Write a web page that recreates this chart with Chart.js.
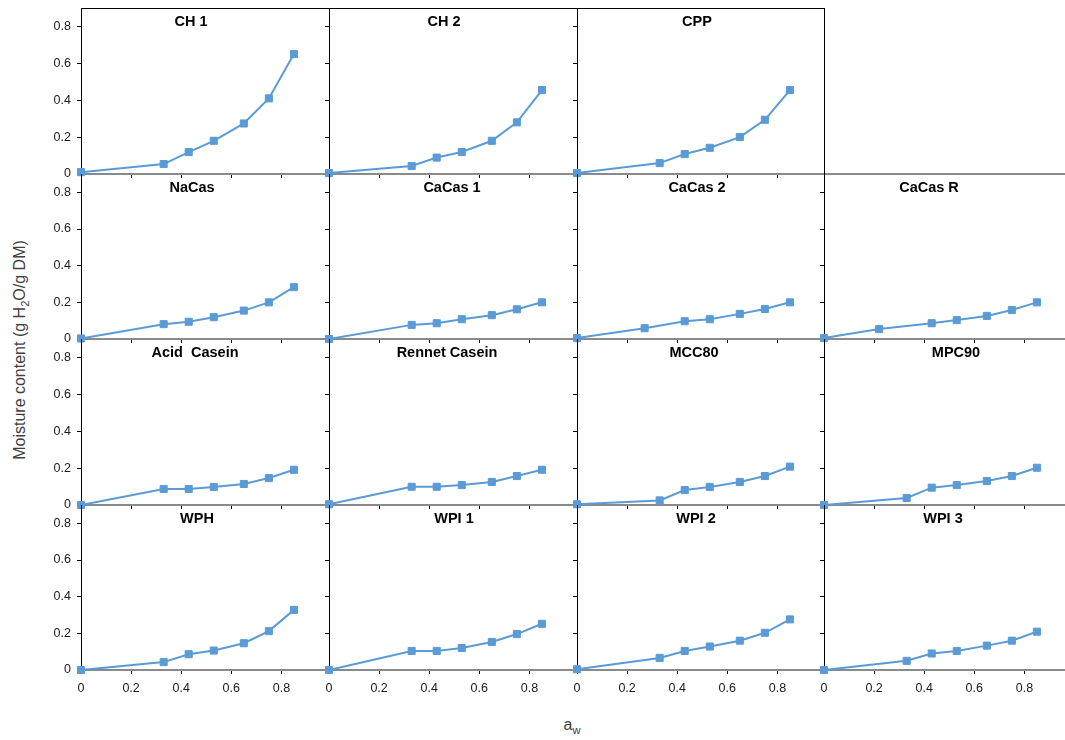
<!DOCTYPE html>
<html>
<head>
<meta charset="utf-8">
<script src="https://cdn.jsdelivr.net/npm/chart.js@4.4.0/dist/chart.umd.min.js"></script>
<style>
  body { margin: 0; background: #fff; width: 1065px; height: 740px; overflow: hidden; position: relative; font-family: "Liberation Sans", Arial, sans-serif; }
  canvas { position: absolute; }
  #ylab { position: absolute; left: 21px; top: 350px; transform: translate(-50%, -50%) rotate(-90deg); white-space: nowrap; font-size: 16px; color: #404040; }
  #xlab { position: absolute; left: 572px; top: 726px; transform: translate(-50%, -50%); font-size: 16px; color: #404040; }
  sub { font-size: 70%; }
</style>
</head>
<body>
<div id="ylab">Moisture content (g H<sub>2</sub>O/g DM)</div>
<div id="xlab">a<sub>w</sub></div>
<script>
// water activity of the salt solutions (x)
const aw      = [0, 0.33, 0.43, 0.53, 0.65, 0.75, 0.85];
const awCaCas2 = [0, 0.27, 0.43, 0.53, 0.65, 0.75, 0.85];
const awCaCasR = [0, 0.22, 0.43, 0.53, 0.65, 0.75, 0.85];

// moisture content, g H2O / g DM
const ch1     = [0.010, 0.054, 0.119, 0.180, 0.274, 0.410, 0.650];
const ch2     = [0.005, 0.043, 0.089, 0.119, 0.180, 0.280, 0.455];
const cpp     = [0.005, 0.059, 0.108, 0.142, 0.200, 0.294, 0.455];
const naCas   = [0.003, 0.081, 0.094, 0.119, 0.155, 0.200, 0.283];
const caCas1  = [0.000, 0.077, 0.086, 0.108, 0.130, 0.162, 0.200];
const caCas2  = [0.005, 0.059, 0.097, 0.108, 0.137, 0.164, 0.200];
const caCasR  = [0.005, 0.054, 0.086, 0.103, 0.126, 0.158, 0.200];
const acidCas = [0.000, 0.087, 0.087, 0.098, 0.114, 0.146, 0.191];
const rennet  = [0.004, 0.099, 0.099, 0.108, 0.125, 0.157, 0.191];
const mcc80   = [0.004, 0.025, 0.081, 0.098, 0.125, 0.157, 0.208];
const mpc90   = [0.000, 0.038, 0.094, 0.108, 0.130, 0.157, 0.202];
const wph     = [0.000, 0.043, 0.086, 0.106, 0.146, 0.212, 0.328];
const wpi1    = [0.000, 0.104, 0.104, 0.120, 0.153, 0.196, 0.252];
const wpi2    = [0.004, 0.066, 0.104, 0.128, 0.160, 0.203, 0.276];
const wpi3    = [0.000, 0.050, 0.090, 0.104, 0.133, 0.160, 0.209];

const xTicks = [0, 0.2, 0.4, 0.6, 0.8];
const yTicks = [0, 0.2, 0.4, 0.6, 0.8];

// grid cells, row by row (null = empty cell)
const panels = [
  ['CH 1', aw, ch1], ['CH 2', aw, ch2], ['CPP', aw, cpp], null,
  ['NaCas', aw, naCas], ['CaCas 1', aw, caCas1], ['CaCas 2', awCaCas2, caCas2], ['CaCas R', awCaCasR, caCasR],
  ['Acid  Casein', aw, acidCas], ['Rennet Casein', aw, rennet], ['MCC80', aw, mcc80], ['MPC90', aw, mpc90],
  ['WPH', aw, wph], ['WPI 1', aw, wpi1], ['WPI 2', aw, wpi2], ['WPI 3', aw, wpi3]
];

// layout (px)
const colLeft = [81, 329, 577, 824];
const rowTop = [8, 174, 339, 505, 670];
const plotW = 248;
const titleDx = [110, 115, 120, 0, 111, 123, 120, 105, 114, 118, 117, 132, 116, 125, 119, 119];
const padL = 45, padT = 20, padR = 12, padB = 30;

const blue = '#5b9bd5';
const font = { family: '"Liberation Sans", Arial, sans-serif', size: 12.5 };

const panelText = {
  id: 'panelText',
  afterDraw(chart, args, opts) {
    const ctx = chart.ctx, a = chart.chartArea;
    ctx.save();
    if (opts.frameTop) {
      ctx.strokeStyle = '#000';
      ctx.lineWidth = 1;
      ctx.beginPath();
      ctx.moveTo(a.left, Math.round(a.top) + 0.5);
      ctx.lineTo(a.right, Math.round(a.top) + 0.5);
      ctx.stroke();
    }
    if (opts.text) {
      ctx.fillStyle = '#000';
      ctx.font = 'bold 14.5px "Liberation Sans", Arial, sans-serif';
      ctx.textAlign = 'center';
      ctx.textBaseline = 'middle';
      ctx.fillText(opts.text, a.left + opts.dx, a.top + 14);
    }
    ctx.restore();
  }
};

panels.forEach(function (p, i) {
  const r = Math.floor(i / 4), c = i % 4;
  const h = rowTop[r + 1] - rowTop[r];
  const cv = document.createElement('canvas');
  cv.width = plotW + padL + padR;
  cv.height = h + padT + padB;
  cv.style.left = (colLeft[c] - padL) + 'px';
  cv.style.top = (rowTop[r] - padT) + 'px';
  document.body.appendChild(cv);

  const datasets = p ? [{
    data: p[1].map((x, k) => ({ x: x, y: p[2][k] })),
    borderColor: blue,
    backgroundColor: blue,
    borderWidth: 2,
    pointStyle: 'rect',
    pointRadius: 5,
    pointBorderWidth: 1,
    pointBackgroundColor: blue,
    pointBorderColor: blue,
    tension: 0,
    clip: false
  }] : [];

  new Chart(cv, {
    type: 'line',
    data: { datasets: datasets },
    options: {
      responsive: false,
      animation: false,
      devicePixelRatio: 1,
      layout: { padding: { left: 0, top: padT, right: padR, bottom: 0 } },
      plugins: {
        legend: { display: false },
        tooltip: { enabled: false },
        panelText: { text: p ? p[0] : '', dx: titleDx[i], frameTop: r === 0 && p !== null }
      },
      scales: {
        x: {
          type: 'linear', position: 'bottom', min: 0, max: 0.99,
          afterFit: s => { s.height = padB; },
          afterBuildTicks: s => { s.ticks = xTicks.map(v => ({ value: v })); },
          ticks: { display: r === 3, font: font, color: '#1a1a1a', padding: 7, maxRotation: 0, autoSkip: false, callback: v => String(v) },
          grid: { display: p !== null, drawOnChartArea: false, drawTicks: true, tickLength: 4, color: '#000', lineWidth: 1 },
          border: { display: true, color: '#8a8a8a', width: 2 }
        },
        y: {
          type: 'linear', position: 'left', min: 0, max: 0.9,
          afterFit: s => { s.width = padL; },
          afterBuildTicks: s => { s.ticks = yTicks.map(v => ({ value: v })); },
          ticks: { display: c === 0, font: font, color: '#1a1a1a', padding: 6, callback: v => String(v) },
          grid: { display: p !== null, drawOnChartArea: false, drawTicks: true, tickLength: 4, color: '#000', lineWidth: 1 },
          border: { display: true, color: '#000', width: 1 }
        }
      }
    },
    plugins: [panelText]
  });
});
</script>
</body>
</html>
